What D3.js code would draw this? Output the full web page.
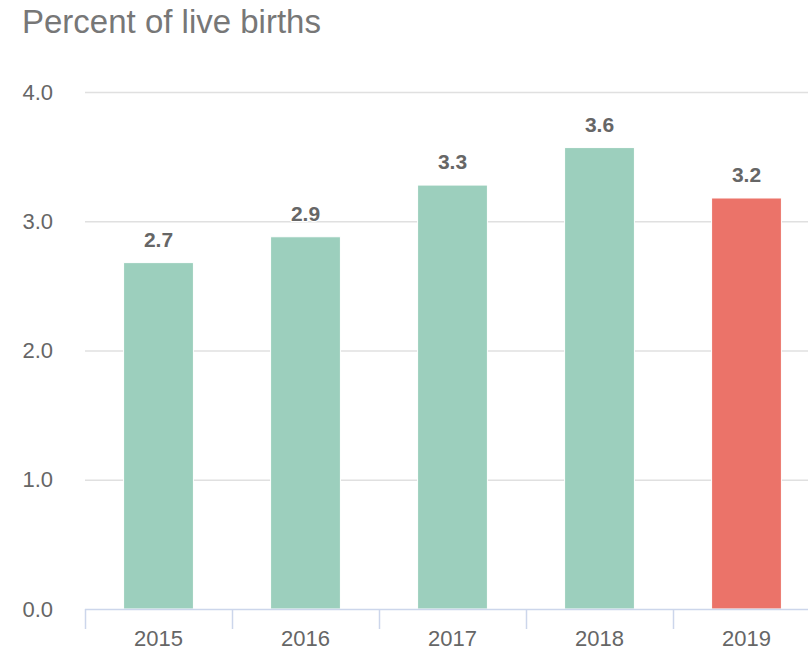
<!DOCTYPE html>
<html>
<head>
<meta charset="utf-8">
<script src="https://cdn.jsdelivr.net/npm/d3@7"></script>
<style>
  body { margin: 0; background: #fff; }
  svg { font-family: "Liberation Sans", Arial, sans-serif; }
</style>
</head>
<body>
<div id="chart"></div>
<script>
var years = ["2015", "2016", "2017", "2018", "2019"];
var values = [2.68, 2.88, 3.28, 3.57, 3.18];
var yTicks = [0, 1, 2, 3, 4];
var highlightYear = "2019";

var width = 808, height = 653;
var margin = { left: 85, top: 92, right: -12, bottom: 44 };
var innerWidth = width - margin.left - margin.right;
var innerHeight = height - margin.top - margin.bottom;

var svg = d3.select("#chart").append("svg")
  .attr("width", width)
  .attr("height", height);

svg.append("text")
  .attr("x", 22)
  .attr("y", 33)
  .attr("font-size", "33px")
  .attr("fill", "#777")
  .text("Percent of live births");

var g = svg.append("g")
  .attr("transform", "translate(" + margin.left + "," + margin.top + ")");

var x = d3.scaleBand().domain(years).range([0, innerWidth]);
var y = d3.scaleLinear().domain([0, 4]).range([innerHeight, 0]);

// gridlines
g.selectAll("line.grid").data(yTicks.filter(function (d) { return d > 0; }))
  .enter().append("line")
  .attr("class", "grid")
  .attr("x1", 0).attr("x2", innerWidth)
  .attr("y1", function (d) { return y(d) + 0.5; })
  .attr("y2", function (d) { return y(d) + 0.5; })
  .attr("stroke", "#e0e0e0")
  .attr("stroke-width", 1.5);

// y labels
g.selectAll("text.ylab").data(yTicks)
  .enter().append("text")
  .attr("class", "ylab")
  .attr("x", -32)
  .attr("y", function (d) { return y(d); })
  .attr("dy", "0.35em")
  .attr("text-anchor", "end")
  .attr("font-size", "22px")
  .attr("fill", "#666")
  .text(function (d) { return d3.format(".1f")(d); });

// bars
var barW = x.bandwidth() * 0.475;
g.selectAll("rect.bar").data(years)
  .enter().append("rect")
  .attr("class", "bar")
  .attr("x", function (d) { return x(d) + (x.bandwidth() - barW) / 2; })
  .attr("y", function (d, i) { return y(values[i]); })
  .attr("width", barW)
  .attr("height", function (d, i) { return innerHeight - y(values[i]); })
  .attr("fill", function (d) { return d === highlightYear ? "#eb7369" : "#9ccfbd"; })
  .attr("stroke", "#fff")
  .attr("stroke-width", 1);

// value labels
g.selectAll("text.val").data(years)
  .enter().append("text")
  .attr("class", "val")
  .attr("x", function (d) { return x(d) + x.bandwidth() / 2; })
  .attr("y", function (d, i) { return y(values[i]) - 16; })
  .attr("text-anchor", "middle")
  .attr("font-size", "21px")
  .attr("font-weight", "bold")
  .attr("fill", "#666")
  .attr("stroke", "#fff")
  .attr("stroke-width", 2)
  .attr("paint-order", "stroke")
  .text(function (d, i) { return d3.format(".1f")(values[i]); });

// x axis
var xAxisG = g.append("g").attr("transform", "translate(0," + innerHeight + ")");
xAxisG.append("line")
  .attr("x1", 0).attr("x2", innerWidth)
  .attr("y1", 0.5).attr("y2", 0.5)
  .attr("stroke", "#ccd6eb")
  .attr("stroke-width", 1.5);
xAxisG.selectAll("line.tick").data(years)
  .enter().append("line")
  .attr("class", "tick")
  .attr("x1", function (d) { return x(d) + 0.5; })
  .attr("x2", function (d) { return x(d) + 0.5; })
  .attr("y1", 0).attr("y2", 20)
  .attr("stroke", "#ccd6eb")
  .attr("stroke-width", 1.5);
xAxisG.selectAll("text.xlab").data(years)
  .enter().append("text")
  .attr("class", "xlab")
  .attr("x", function (d) { return x(d) + x.bandwidth() / 2; })
  .attr("y", 37)
  .attr("text-anchor", "middle")
  .attr("font-size", "22px")
  .attr("fill", "#666")
  .text(function (d) { return d; });
</script>
</body>
</html>
